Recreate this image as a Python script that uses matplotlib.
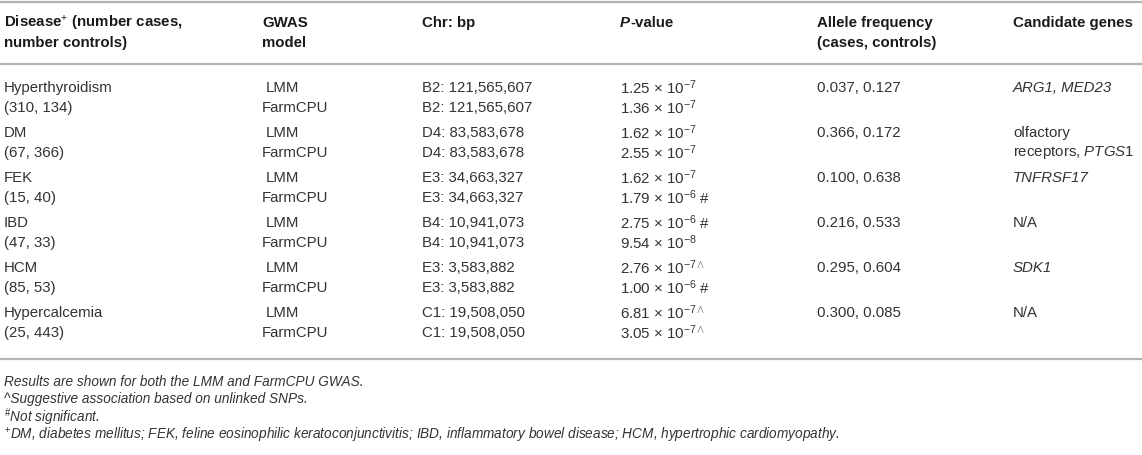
import matplotlib
matplotlib.use('Agg')
import matplotlib.pyplot as plt
import matplotlib.transforms as mtransforms

plt.rcParams['font.family'] = ['Liberation Sans', 'DejaVu Sans']
plt.rcParams['mathtext.fontset'] = 'custom'
plt.rcParams['mathtext.rm'] = 'Liberation Sans'
plt.rcParams['mathtext.it'] = 'Liberation Sans:italic'
plt.rcParams['mathtext.bf'] = 'Liberation Sans:bold'
plt.rcParams['mathtext.sf'] = 'Liberation Sans'

# ---------------- data ----------------
header_line1 = [r'Disease$^{+}$ (number cases,', 'GWAS', 'Chr: bp', None, 'Allele frequency', 'Candidate genes']
header_line2 = ['number controls)', 'model', '', '', '(cases, controls)', '']
diseases = ['Hyperthyroidism', 'DM', 'FEK', 'IBD', 'HCM', 'Hypercalcemia']
counts = ['(310, 134)', '(67, 366)', '(15, 40)', '(47, 33)', '(85, 53)', '(25, 443)']
models = ['LMM', 'FarmCPU']
chr_lmm = ['B2: 121,565,607', 'D4: 83,583,678', 'E3: 34,663,327',
           'B4: 10,941,073', 'E3: 3,583,882', 'C1: 19,508,050']
chr_farm = ['B2: 121,565,607', 'D4: 83,583,678', 'E3: 34,663,327',
            'B4: 10,941,073', 'E3: 3,583,882', 'C1: 19,508,050']
p_lmm_mant = ['1.25', '1.62', '1.62', '2.75', '2.76', '6.81']
p_lmm_exp = [7, 7, 7, 6, 7, 7]
p_lmm_flag = ['', '', '', '#', '^', '^']
p_farm_mant = ['1.36', '2.55', '1.79', '9.54', '1.00', '3.05']
p_farm_exp = [7, 7, 6, 8, 6, 7]
p_farm_flag = ['', '', '#', '', '#', '^']
allele = ['0.037, 0.127', '0.366, 0.172', '0.100, 0.638',
          '0.216, 0.533', '0.295, 0.604', '0.300, 0.085']
genes_line1 = ['ARG1, MED23', 'olfactory', 'TNFRSF17', 'N/A', 'SDK1', 'N/A']
genes_line1_italic = [True, False, True, False, True, False]
genes_line2 = ['', r'receptors, $\mathit{PTGS1}$', '', '', '', '']
footnotes = [
    'Results are shown for both the LMM and FarmCPU GWAS.',
    '^Suggestive association based on unlinked SNPs.',
    r'$^{\#}$Not significant.',
    r'$^{+}$DM, diabetes mellitus; FEK, feline eosinophilic keratoconjunctivitis; '
    r'IBD, inflammatory bowel disease; HCM, hypertrophic cardiomyopathy.',
]

# ---------------- layout ----------------
W, H = 1142, 456
col_x = [4, 262, 422, 620, 817, 1013]
hdr_y = [23, 43]
rule_top, rule_hdr, rule_bot = 2.5, 65, 360
row0, group_step, line_step = 88, 45, 20
foot_y = [382, 399.5, 417, 435.5]
fs = 10.8
fs_foot = 9.8
body_col = '#333333'
head_col = '#1a1a1a'
rule_col = '#b3b3b3'

fig = plt.figure(figsize=(W / 100, H / 100), dpi=100)
ax = fig.add_axes([0, 0, 1, 1])
ax.set_xlim(0, W)
ax.set_ylim(H, 0)
ax.axis('off')

for y in (rule_top, rule_hdr, rule_bot):
    ax.axhline(y, color=rule_col, lw=1.6)

# header
for i, (t1, t2) in enumerate(zip(header_line1, header_line2)):
    if t1 is not None:
        ax.text(col_x[i], hdr_y[0], t1, fontsize=fs, fontweight='bold', color=head_col, va='center', ha='left')
    if t2:
        ax.text(col_x[i], hdr_y[1], t2, fontsize=fs, fontweight='bold', color=head_col, va='center', ha='left')

# P-value header: bold italic P + bold "-value"
pt = ax.text(col_x[3], hdr_y[0], 'P', fontsize=fs, fontweight='bold', fontstyle='italic',
             color=head_col, va='center', ha='left')
fig.canvas.draw()
r = fig.canvas.get_renderer()
bb = pt.get_window_extent(renderer=r)
x_px = bb.x1 + 0.5
ax.text(x_px, hdr_y[0], '-value', fontsize=fs, fontweight='bold', color=head_col,
        va='center', ha='left',
        transform=mtransforms.blended_transform_factory(mtransforms.IdentityTransform(), ax.transData))


def pstr(m, e, f):
    if f == '^':
        return m + r' $\times$ 10$^{-' + str(e) + r'\wedge}$'
    s = m + r' $\times$ 10$^{-' + str(e) + '}$'
    if f == '#':
        s += ' #'
    return s


for g in range(len(diseases)):
    y1 = row0 + g * group_step
    y2 = y1 + line_step
    kw = dict(fontsize=fs, color=body_col, va='center', ha='left')
    ax.text(col_x[0], y1, diseases[g], **kw)
    ax.text(col_x[0], y2, counts[g], **kw)
    ax.text(col_x[1] + 4, y1, models[0], **kw)
    ax.text(col_x[1], y2, models[1], **kw)
    ax.text(col_x[2], y1, chr_lmm[g], **kw)
    ax.text(col_x[2], y2, chr_farm[g], **kw)
    ax.text(col_x[3], y1, pstr(p_lmm_mant[g], p_lmm_exp[g], p_lmm_flag[g]), **kw)
    ax.text(col_x[3], y2, pstr(p_farm_mant[g], p_farm_exp[g], p_farm_flag[g]), **kw)
    ax.text(col_x[4], y1, allele[g], **kw)
    ax.text(col_x[5], y1, genes_line1[g], fontstyle='italic' if genes_line1_italic[g] else 'normal', **kw)
    if genes_line2[g]:
        ax.text(col_x[5], y2, genes_line2[g], **kw)

for y, t in zip(foot_y, footnotes):
    ax.text(col_x[0], y, t, fontsize=fs_foot, fontstyle='italic', color=body_col, va='center', ha='left')

fig.savefig('out.png', dpi=100)
